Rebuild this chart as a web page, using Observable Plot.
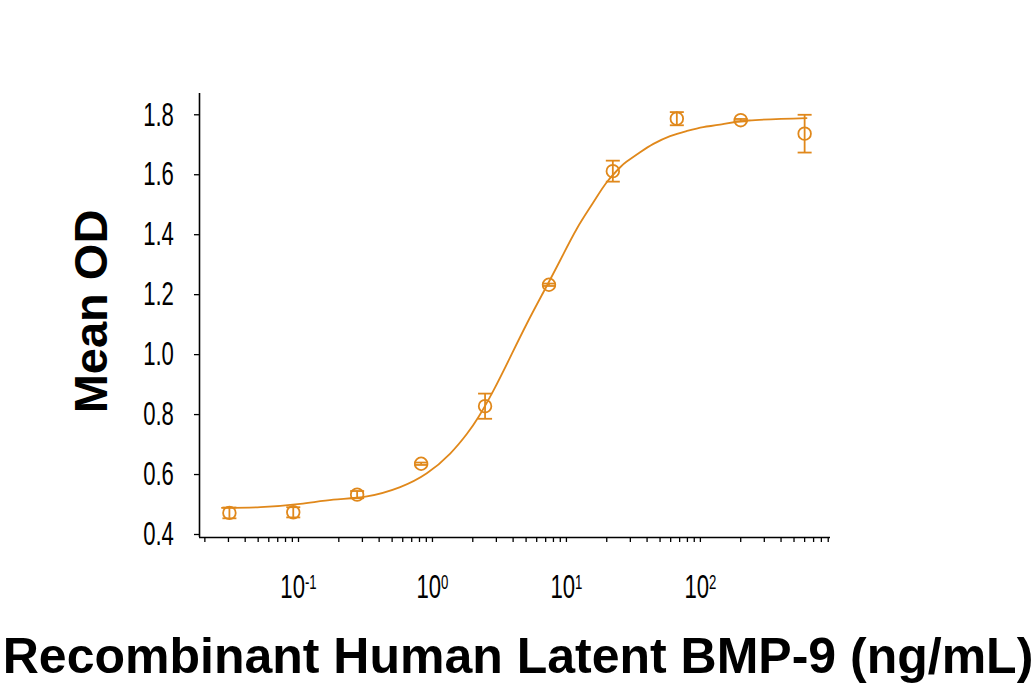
<!DOCTYPE html>
<html><head><meta charset="utf-8">
<script src="https://cdn.jsdelivr.net/npm/d3@7"></script>
<script src="https://cdn.jsdelivr.net/npm/@observablehq/plot@0.6"></script>
<style>
html,body{margin:0;padding:0;background:#fff;}
#chart svg{display:block;}
</style></head><body><div id="chart"></div>
<script>
// Measured data (3-fold dilution series)
const concentration = [0.0305, 0.0914, 0.274, 0.823, 2.47, 7.41, 22.2, 66.7, 200, 600];
const meanOD = [0.472, 0.474, 0.533, 0.636, 0.828, 1.233, 1.612, 1.787, 1.782, 1.737];
const errorOD = [0.018, 0.017, 0.012, 0.004, 0.042, 0.004, 0.035, 0.022, 0.004, 0.063];

// Fitted curve
const curveConc = [0.0268, 0.052, 0.103, 0.182, 0.324, 0.574, 0.908, 1.356, 1.81, 2.2, 2.85, 3.80, 5.06, 6.73, 8.97, 11.96, 15.9, 20.0, 25.2, 28.2, 35.5, 44.6, 59.4, 79.2, 105, 140, 230, 620];
const curveOD = [0.489, 0.491, 0.502, 0.516, 0.527, 0.558, 0.604, 0.670, 0.736, 0.791, 0.880, 0.991, 1.103, 1.208, 1.314, 1.420, 1.508, 1.575, 1.625, 1.644, 1.675, 1.703, 1.729, 1.746, 1.759, 1.767, 1.781, 1.789];

// Axis ticks & labels
const yTicks = [0.4, 0.6, 0.8, 1.0, 1.2, 1.4, 1.6, 1.8];
const decades = [0.01, 0.1, 1, 10, 100];
const mantissas = [1, 2, 3, 4, 5, 6, 7, 8, 9];
const decadeExponents = {"0.1": "-1", "1": "0", "10": "1", "100": "2"};
const xTitle = "Recombinant Human Latent BMP-9 (ng/mL)";
const yTitle = "Mean OD";
const color = "#E0881B";

const xDomain = [0.01824, 936];
const yDomain = [0.39, 1.871];

const points = concentration.map((c, i) => ({c, od: meanOD[i], lo: meanOD[i] - errorOD[i], hi: meanOD[i] + errorOD[i]}));
const curve = curveConc.map((c, i) => ({c, od: curveOD[i]}));
const xTicks = decades.flatMap(d => mantissas.map(m => +(d * m).toPrecision(3)))
  .filter(v => v >= xDomain[0] && v <= xDomain[1]);

const cap = {draw(context, size) { const r = Math.sqrt(size / Math.PI); context.moveTo(-r, 0); context.lineTo(r, 0); }};

const plot = Plot.plot({
  width: 1034, height: 686,
  marginLeft: 199, marginRight: 204, marginTop: 93, marginBottom: 149,
  style: {fontFamily: "'Liberation Sans', Arial, sans-serif", background: "#fff", overflow: "visible"},
  x: {type: "log", domain: xDomain, axis: null},
  y: {domain: yDomain, axis: null},
  marks: [
    Plot.axisY({ticks: yTicks, tickSize: 5, tickPadding: 20.6, tickFormat: d3.format(".1f"), fontSize: 33.5, label: null, strokeWidth: 1.3}),
    Plot.axisX({ticks: xTicks, tickSize: 5, tickPadding: 32, tickFormat: d => decadeExponents[String(d)] !== undefined ? "10^" + decadeExponents[String(d)] : "", fontSize: 33.5, label: null, strokeWidth: 1.3}),
    Plot.ruleX([xDomain[0]], {strokeWidth: 1.6}),
    Plot.ruleY([yDomain[0]], {strokeWidth: 1.6}),
    Plot.ruleX(points, {x: "c", y1: "lo", y2: "hi", stroke: color, strokeWidth: 1.8}),
    Plot.dot(points, {x: "c", y: "lo", symbol: cap, r: 7, stroke: color, fill: "none", strokeWidth: 1.8}),
    Plot.dot(points, {x: "c", y: "hi", symbol: cap, r: 7, stroke: color, fill: "none", strokeWidth: 1.8}),
    Plot.line(curve, {x: "c", y: "od", stroke: color, strokeWidth: 1.8, curve: "natural"}),
    Plot.dot(points, {x: "c", y: "od", r: 6.3, stroke: color, fill: "none", strokeWidth: 1.8}),
    Plot.text([yTitle], {frameAnchor: "left", rotate: -90, dx: -93, dy: -4, fontSize: 47, fontWeight: "bold", lineAnchor: "bottom", textAnchor: "middle"}),
    Plot.text([xTitle], {frameAnchor: "bottom", dx: 3, dy: 135, fontSize: 50, fontWeight: "bold", lineAnchor: "bottom", textAnchor: "middle"})
  ]
});

// superscript exponents on the decade labels
plot.querySelectorAll('g[aria-label="x-axis tick label"] text').forEach(t => {
  const s = t.textContent;
  if (s.includes("^")) {
    const [base, exp] = s.split("^");
    t.textContent = "";
    const ns = "http://www.w3.org/2000/svg";
    const b = document.createElementNS(ns, "tspan"); b.textContent = base;
    const e = document.createElementNS(ns, "tspan"); e.textContent = exp;
    e.setAttribute("font-size", "20"); e.setAttribute("dy", "-9.6");
    t.append(b, e);
  }
});
// condensed look for the tick labels
plot.querySelectorAll('g[aria-label="y-axis tick label"] text, g[aria-label="x-axis tick label"] text').forEach(t => {
  const tr = t.getAttribute("transform");
  if (tr) t.setAttribute("transform", tr + " scale(0.66,1)");
  else {
    const x = t.getAttribute("x") || 0;
    t.removeAttribute("x");
    t.setAttribute("transform", `translate(${x},0) scale(0.66,1)`);
  }
});
document.getElementById("chart").append(plot);
</script></body></html>
